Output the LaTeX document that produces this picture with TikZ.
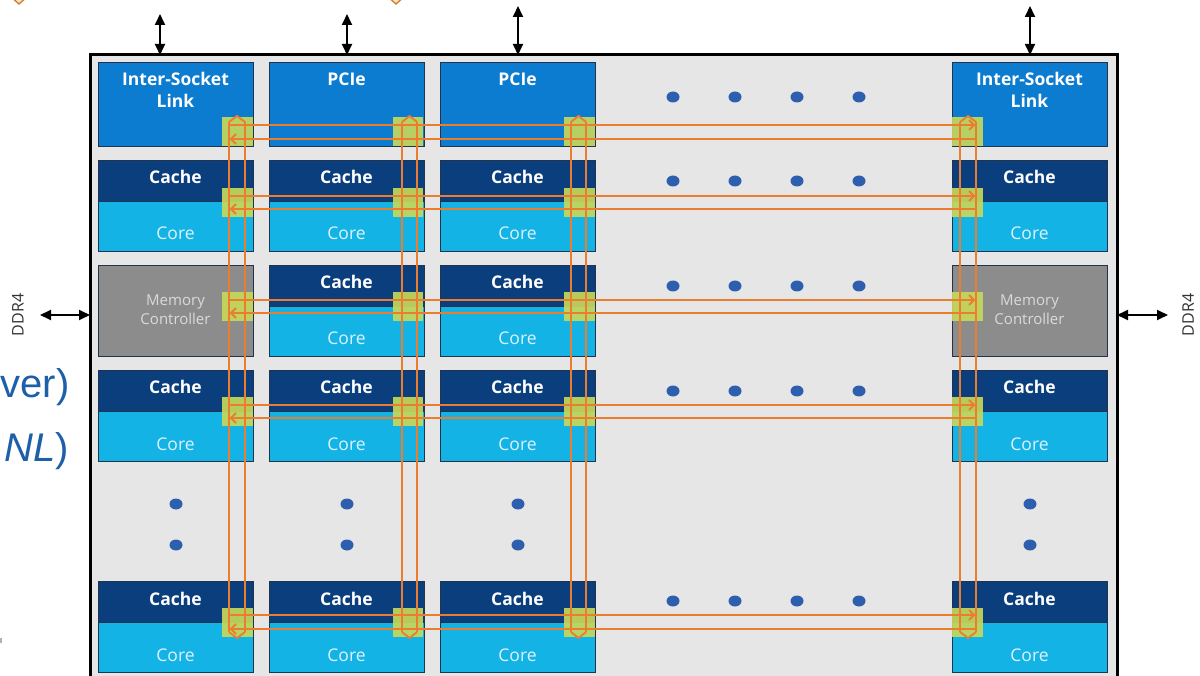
\documentclass[tikz,border=0pt]{standalone}
\usepackage{fontspec}
\setmainfont{Open Sans}
\newfontfamily\arialf{Liberation Sans}
\usetikzlibrary{arrows.meta}
\definecolor{dieBg}{HTML}{E6E6E6}
\definecolor{tileBlue}{HTML}{0B7CCF}
\definecolor{cacheBlue}{HTML}{0A3E7D}
\definecolor{coreBlue}{HTML}{14B3E6}
\definecolor{memGray}{HTML}{8C8C8C}
\definecolor{ringOr}{HTML}{EC7D2E}
\definecolor{stopGr}{HTML}{C6D75A}
\definecolor{dotBlue}{HTML}{2E5FAE}
\definecolor{slideBlue}{HTML}{1E5FAA}
\definecolor{tileEdge}{HTML}{22344C}
\definecolor{coreText}{HTML}{DDF3FB}
\definecolor{memText}{HTML}{DADADA}
\tikzset{
  tilebox/.style={draw=tileEdge, line width=0.9pt, anchor=north west, minimum width=155pt, inner sep=0pt, outer sep=0pt},
  linkbox/.style={tilebox, fill=tileBlue, minimum height=84pt},
  cachebox/.style={tilebox, fill=cacheBlue, minimum height=41pt},
  corebox/.style={tilebox, fill=coreBlue, minimum height=50pt},
  membox/.style={tilebox, fill=memGray, minimum height=91pt},
  boldlbl/.style={anchor=base, text=white, font=\bfseries\fontsize{17.5}{21}\selectfont, inner sep=0pt},
  corelbl/.style={anchor=base, text=coreText, font=\fontsize{17.5}{21}\selectfont, inner sep=0pt},
  memlbl/.style={anchor=base, text=memText, font=\fontsize{15}{18}\selectfont, inner sep=0pt},
  ddrlbl/.style={text=black!80, font=\fontsize{16}{19}\selectfont, rotate=90, inner sep=0pt},
  ioarrow/.style={{Triangle[length=11pt,width=10pt]}-{Triangle[length=11pt,width=10pt]}, line width=1.8pt, black},
  ring/.style={draw=ringOr, line width=2.8pt},
  chev/.style={draw=ringOr, line width=1.8pt},
  stopbox/.style={fill=stopGr, fill opacity=0.92},
  dotmark/.style={fill=dotBlue},
}
\begin{document}
\begin{tikzpicture}[x=1pt,y=-1pt]
\useasboundingbox (0,0) rectangle (1200,676);
\begin{scope}
\clip (0,0) rectangle (1200,676);
\fill[white] (0,0) rectangle (1200,676);

% background slide remnants
\foreach \cx/\nm in {19/dA,396/dB}{
  \draw[fill=orange!20, draw=brown!70!orange, line width=1.4pt] (\cx-9,-4) -- (\cx,4) -- (\cx+9,-4) -- (\cx,-12) -- cycle;
}
\node[anchor=base west, text=slideBlue, font=\arialf\fontsize{40}{48}\selectfont, inner sep=0pt] (sl1) at (0.5,397) {ver)};
\node[anchor=base east, text=slideBlue, font=\arialf\fontsize{40}{48}\selectfont, inner sep=0pt] (sl2) at (69,461) {{\itshape NL})};
\fill[gray!60] (0,638) rectangle (2,643);

% die
\fill[dieBg] (90,55) rectangle (1117,700);
\draw[line width=3pt] (90,700) -- (90,55) -- (1117,55) -- (1117,700);

% row 1
\node[linkbox] (isl1) at (98,62) {};
\node[linkbox] (pcie1) at (269,62) {};
\node[linkbox] (pcie2) at (440,62) {};
\node[linkbox] (isl2) at (952,62) {};
\node[boldlbl] (isl1a) at (175.5,86) {Inter-Socket};
\node[boldlbl] (isl1b) at (175.5,108) {Link};
\node[boldlbl] (pcie1t) at (346.5,86) {PCIe};
\node[boldlbl] (pcie2t) at (517.5,86) {PCIe};
\node[boldlbl] (isl2a) at (1029.5,86) {Inter-Socket};
\node[boldlbl] (isl2b) at (1029.5,108) {Link};

% cache/core tiles
\foreach \ci/\x in {1/98,2/269,3/440,4/952}{
  \foreach \ri/\y in {2/160,4/370,6/581}{
    \node[cachebox] (ca\ci\ri) at (\x,\y) {};
    \node[corebox] (co\ci\ri) at (\x,\y+41) {};
    \node[boldlbl] (cat\ci\ri) at (\x+77.5,\y+24) {Cache};
    \node[corelbl] (cot\ci\ri) at (\x+77.5,\y+80) {Core};
  }
}
\foreach \ci/\x in {2/269,3/440}{
  \node[cachebox] (ca\ci3) at (\x,265) {};
  \node[corebox] (co\ci3) at (\x,306) {};
  \node[boldlbl] (cat\ci3) at (\x+77.5,289) {Cache};
  \node[corelbl] (cot\ci3) at (\x+77.5,345) {Core};
}
\foreach \ci/\x in {1/98,4/952}{
  \node[membox] (mc\ci) at (\x,265) {};
  \node[memlbl] (mct\ci) at (\x+77.5,306) {Memory};
  \node[memlbl] (mcu\ci) at (\x+77.5,325) {Controller};
}

% ellipsis dots
\foreach \x in {176,347,518,1030}{
  \fill[dotmark] (\x,504) ellipse (6.5 and 5.5);
  \fill[dotmark] (\x,545) ellipse (6.5 and 5.5);
}
\foreach \y in {97,181,286,391,601}{
  \foreach \x in {673,735,797,859}{
    \fill[dotmark] (\x,\y) ellipse (6.5 and 5.5);
  }
}

% ring stops
\foreach \xl/\xr in {222/253,393/423,564/595,952/983}{
  \foreach \yc in {132,202.5,306.5,411.5,622}{
    \fill[stopbox] (\xl,\yc-14.5) rectangle (\xr,\yc+14.5);
  }
}
% ring lines
\foreach \ya/\yb in {125/139,196/209,300/313,405/418,615/629}{
  \draw[ring] (229,\ya) -- (976,\ya);
  \draw[ring] (229,\yb) -- (976,\yb);
  \draw[chev] (236,\yb-5) -- (231,\yb) -- (236,\yb+5);
  \draw[chev] (969,\ya-5) -- (974,\ya) -- (969,\ya+5);
}
\foreach \xa/\xb in {229/245,402/417,571/586,960/976}{
  \draw[ring] (\xa,122) -- (\xa,632);
  \draw[ring] (\xb,122) -- (\xb,632);
  \draw[chev] (\xa,122) -- ({(\xa+\xb)/2},116) -- (\xb,122);
  \draw[chev] (\xa,632) -- ({(\xa+\xb)/2},638) -- (\xb,632);
}

% IO arrows
\coordinate (t1) at (160,14);  \coordinate (b1) at (160,55);
\coordinate (t2) at (347,14);  \coordinate (b2) at (347,55);
\coordinate (t3) at (518,6);   \coordinate (b3) at (518,55);
\coordinate (t4) at (1030,6);  \coordinate (b4) at (1030,55);
\draw[ioarrow] (t1) -- (b1);
\draw[ioarrow] (t2) -- (b2);
\draw[ioarrow] (t3) -- (b3);
\draw[ioarrow] (t4) -- (b4);
\coordinate (dl) at (40,315);  \coordinate (dlb) at (90,315);
\coordinate (dr) at (1168,315); \coordinate (drb) at (1117,315);
\draw[ioarrow] (dl) -- (dlb);
\draw[ioarrow] (drb) -- (dr);
\node[ddrlbl] (ddrL) at (18,315) {DDR4};
\node[ddrlbl] (ddrR) at (1188,315) {DDR4};
\end{scope}
\end{tikzpicture}
\end{document}
